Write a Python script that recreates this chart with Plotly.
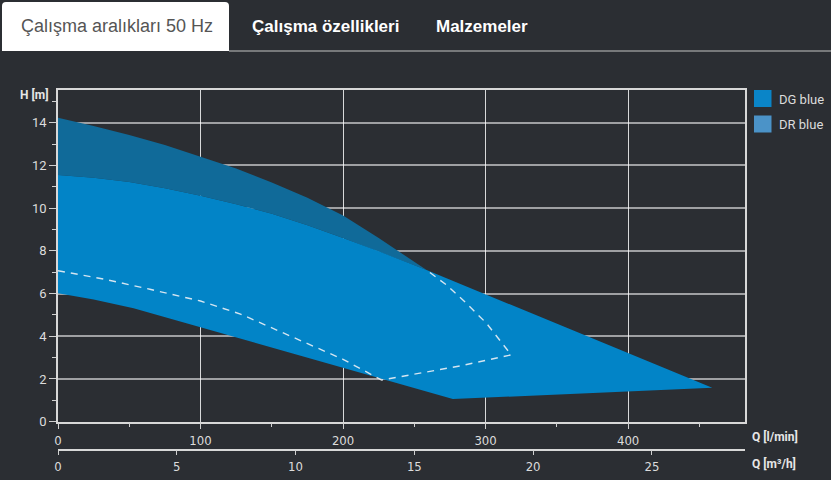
import plotly.graph_objects as go

# ---------------- data ----------------
q_dr_top = [0, 25, 50, 75, 100, 125, 150, 175, 200, 225, 258.6]
h_dr_top = [14.23, 13.85, 13.42, 12.95, 12.41, 11.85, 11.2, 10.48, 9.66, 8.6, 7.1]

q_dg_top = [0, 25, 50, 75, 100, 125, 150, 175, 200, 225, 258.6, 459]
h_dg_top = [11.55, 11.42, 11.22, 10.93, 10.58, 10.18, 9.74, 9.2, 8.6, 7.98, 7.1, 1.59]
q_dg_bottom = [459, 277, 226, 200, 128, 100, 75, 53, 25, 0]
h_dg_bottom = [1.59, 1.06, 2.03, 2.50, 3.90, 4.42, 4.9, 5.31, 5.72, 6.01]

q_dash = [0, 32, 64.5, 100, 128, 160, 200, 227, 282, 318, 310, 300.6, 286.6, 272.6, 258.6]
h_dash = [7.07, 6.68, 6.2, 5.65, 5.04, 4.1, 2.92, 1.95, 2.61, 3.13, 3.83, 4.61, 5.54, 6.40, 7.10]

x_ticks = [0, 100, 200, 300, 400]
x2_ticks = [0, 5, 10, 15, 20, 25]
y_ticks = [0, 2, 4, 6, 8, 10, 12, 14]
tabs = ["Çalışma aralıkları 50 Hz", "Çalışma özellikleri", "Malzemeler"]
legend_names = ["DG blue", "DR blue"]
legend_colors = ["#0a85c8", "#4b93c8"]

# ---------------- layout helpers ----------------
W, H = 831, 480
BG = "#2b2e33"
X_MAX = 482
Y_MAX = 15.53
N_DR = len(q_dr_top)


def px(x):
    return x / W


def py(y):
    return 1 - y / H


fig = go.Figure()

# DR band (upper part)
fig.add_trace(go.Scatter(
    x=q_dr_top + q_dg_top[:N_DR][::-1],
    y=h_dr_top + h_dg_top[:N_DR][::-1],
    fill="toself", mode="lines", line=dict(width=0),
    fillcolor="#106a99", hoverinfo="skip", showlegend=False))

# DG area
fig.add_trace(go.Scatter(
    x=q_dg_top + q_dg_bottom,
    y=h_dg_top + h_dg_bottom,
    fill="toself", mode="lines", line=dict(width=0),
    fillcolor="#0284c7", hoverinfo="skip", showlegend=False))

# dashed line
fig.add_trace(go.Scatter(
    x=q_dash, y=h_dash, mode="lines",
    line=dict(color="rgba(235,240,245,0.9)", width=1.4, dash="7px,6px"),
    hoverinfo="skip", showlegend=False))

# invisible trace for second x axis
fig.add_trace(go.Scatter(x=[0, X_MAX / 16.6667], y=[None, None], xaxis="x2",
                         mode="lines", hoverinfo="skip", showlegend=False))

tick_font = dict(family="Liberation Sans Narrow, DejaVu Sans Condensed, Roboto", size=13, color="#dcdcdc")

fig.update_layout(
    width=W, height=H,
    margin=dict(l=0, r=0, t=0, b=0, pad=0),
    paper_bgcolor=BG, plot_bgcolor=BG,
    showlegend=False,
    xaxis=dict(
        domain=[px(58), px(745)], range=[0, X_MAX], automargin=False,
        tickvals=x_ticks, ticks="outside", ticklen=6, tickcolor="#d0d0d0",
        tickfont=tick_font,
        minor=dict(tickvals=[50, 150, 250, 350, 450], ticks="outside", ticklen=4,
                   tickcolor="#d0d0d0", showgrid=False),
        showgrid=True, gridcolor="rgba(255,255,255,0.82)", gridwidth=1,
        showline=True, linecolor="#d8d8d8", linewidth=1.5, mirror=True,
        zeroline=False, fixedrange=True),
    xaxis2=dict(
        overlaying="x", anchor="free", position=(H - 449.5) / H, side="bottom",
        range=[0, X_MAX / 16.6667], automargin=False,
        tickvals=x2_ticks, ticks="outside", ticklen=5, tickcolor="#d0d0d0",
        tickfont=tick_font, showgrid=False,
        showline=True, linecolor="#d8d8d8", linewidth=1.5, zeroline=False),
    yaxis=dict(
        domain=[1 - 421.7 / H, 1 - 90 / H], range=[0, Y_MAX], automargin=False,
        tickvals=y_ticks, ticks="outside", ticklen=7, tickcolor="#d0d0d0",
        tickfont=dict(family="Roboto", size=13, color="#dcdcdc"),
        minor=dict(tickvals=[1, 3, 5, 7, 9, 11, 13, 15], ticks="outside", ticklen=4,
                   tickcolor="#d0d0d0", showgrid=False),
        showgrid=True, gridcolor="rgba(255,255,255,0.55)", gridwidth=1.5,
        showline=True, linecolor="#d8d8d8", linewidth=1.5, mirror=True,
        zeroline=False, fixedrange=True),
)

shapes = []
ann = []

# active tab (white, rounded top corners)
x0, x1, y0, y1, r = 2, 229, 2, 51, 4
path = (f"M {px(x0)},{py(y1)} L {px(x0)},{py(y0 + r)} Q {px(x0)},{py(y0)} {px(x0 + r)},{py(y0)} "
        f"L {px(x1 - r)},{py(y0)} Q {px(x1)},{py(y0)} {px(x1)},{py(y0 + r)} L {px(x1)},{py(y1)} Z")
shapes.append(dict(type="path", xref="paper", yref="paper", path=path,
                   fillcolor="#ffffff", line=dict(width=0), layer="above"))
shapes.append(dict(type="line", xref="paper", yref="paper", x0=px(229), x1=1, y0=py(51), y1=py(51),
                   line=dict(color="#c4c4c4", width=1)))

tab_font = "Liberation Sans, Arial, sans-serif"
ann.append(dict(text=tabs[0], x=px(19), y=py(26), xref="paper", yref="paper", xanchor="left",
                yanchor="middle", showarrow=False, font=dict(family=tab_font, size=18, color="#555555")))
ann.append(dict(text="<b>" + tabs[1] + "</b>", x=px(250), y=py(26), xref="paper", yref="paper",
                xanchor="left", yanchor="middle", showarrow=False,
                font=dict(family=tab_font, size=17, color="#ffffff")))
ann.append(dict(text="<b>" + tabs[2] + "</b>", x=px(434), y=py(26), xref="paper", yref="paper",
                xanchor="left", yanchor="middle", showarrow=False,
                font=dict(family=tab_font, size=17, color="#ffffff")))

# axis titles
lab_font = dict(family="Roboto", size=12, color="#e6e6e6")
ann.append(dict(text="<b>H [m]</b>", x=px(51), y=py(95), xref="paper", yref="paper", xanchor="right",
                yanchor="middle", showarrow=False, font=lab_font))
ann.append(dict(text="<b>Q [l/min]</b>", x=px(750), y=py(436), xref="paper", yref="paper",
                xanchor="left", yanchor="middle", showarrow=False, font=lab_font))
ann.append(dict(text="<b>Q [m³/h]</b>", x=px(750), y=py(463), xref="paper", yref="paper",
                xanchor="left", yanchor="middle", showarrow=False, font=lab_font))

# manual legend
for i, (name, col) in enumerate(zip(legend_names, legend_colors)):
    top = 90 + i * 25.5
    shapes.append(dict(type="rect", xref="paper", yref="paper", x0=px(754), x1=px(771.5),
                       y0=py(top + 17), y1=py(top), fillcolor=col, line=dict(width=0)))
    ann.append(dict(text=name, x=px(777), y=py(top + 9), xref="paper", yref="paper",
                    xanchor="left", yanchor="middle", showarrow=False,
                    font=dict(family="Roboto", size=13, color="#dcdcdc")))

fig.update_layout(shapes=shapes, annotations=ann)

fig.write_html(
    "out.html",
    config={"displayModeBar": False},
    post_script="document.body.style.margin='0';document.body.style.padding='0';"
                "document.body.style.background='" + BG + "';",
)
